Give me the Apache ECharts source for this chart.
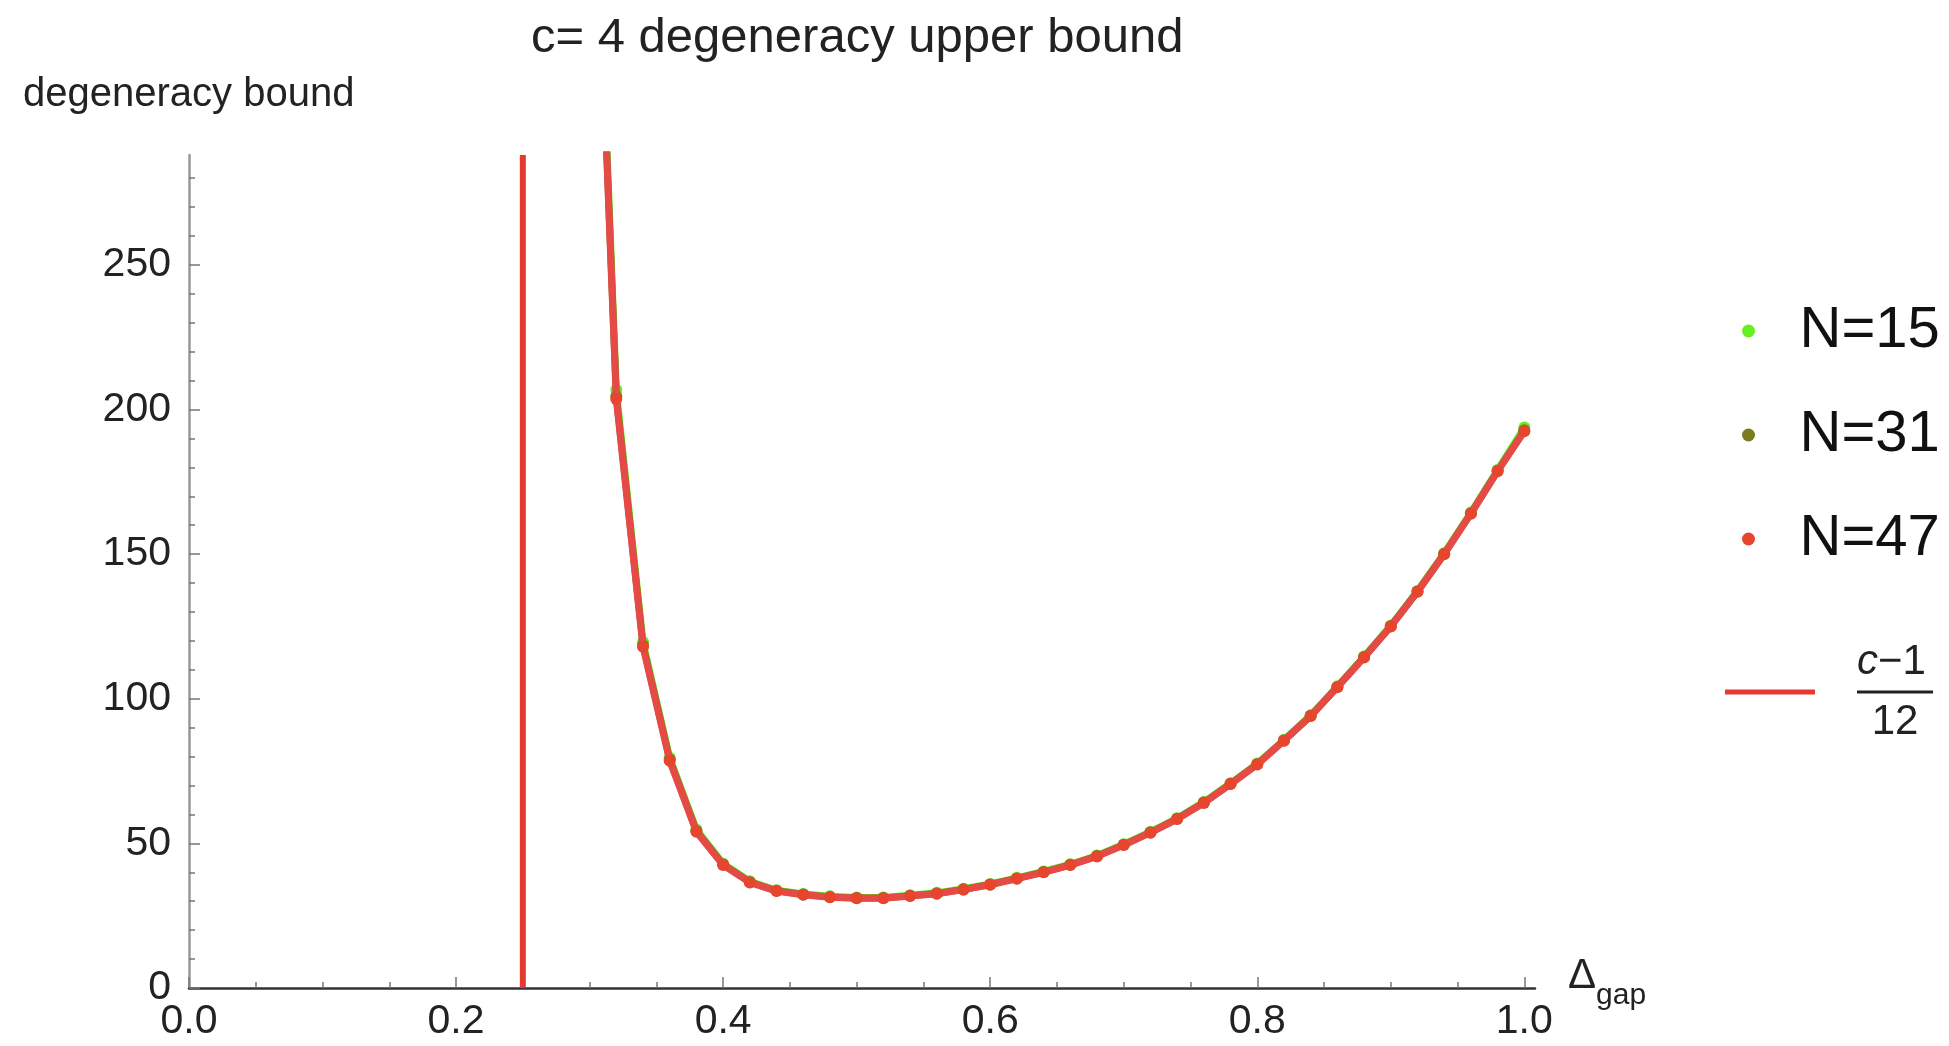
<!DOCTYPE html>
<html>
<head>
<meta charset="utf-8">
<script src="https://cdn.jsdelivr.net/npm/echarts@6/dist/echarts.min.js"></script>
<style>
html,body{margin:0;padding:0;background:#fff;}
#c{width:1949px;height:1046px;}
</style>
</head>
<body>
<div id="c"></div>
<script>
// ---- data ----
const xs = [0.30,0.32,0.34,0.36,0.38,0.40,0.42,0.44,0.46,0.48,0.50,0.52,0.54,0.56,0.58,0.60,0.62,0.64,0.66,0.68,0.70,0.72,0.74,0.76,0.78,0.80,0.82,0.84,0.86,0.88,0.90,0.92,0.94,0.96,0.98,1.00];
const n15 = [446,206.8,119.6,79.6,54.8,43.0,36.9,33.8,32.5,31.7,31.3,31.3,32.1,32.9,34.3,36.0,38.1,40.3,42.8,45.8,49.7,54.0,58.7,64.3,70.8,77.6,85.8,94.3,104.3,114.6,125.3,137.3,150.3,164.4,179.1,193.8];
const n31 = [441,204.6,118.5,79.0,54.3,42.7,36.6,33.6,32.3,31.5,31.1,31.1,31.9,32.7,34.1,35.8,37.9,40.1,42.6,45.6,49.5,53.8,58.5,64.1,70.6,77.4,85.6,94.1,104.1,114.4,125.1,137.1,150.1,164.1,178.8,192.8];
const n47 = [438,203.6,118.0,78.6,54.0,42.5,36.5,33.5,32.2,31.4,31.0,31.0,31.8,32.6,34.0,35.7,37.8,40.0,42.5,45.5,49.4,53.7,58.4,64.0,70.5,77.3,85.5,94.0,104.0,114.3,125.0,137.0,150.0,164.0,178.7,192.5];
const vlineX = 0.25;          // (c-1)/12 with c = 4
const xMajorTicks = [0,0.2,0.4,0.6,0.8,1.0];
const xMinorTicks = [0.05,0.1,0.15,0.25,0.3,0.35,0.45,0.5,0.55,0.65,0.7,0.75,0.85,0.9,0.95];
const yMajorTicks = [0,50,100,150,200,250];
const yMinorTicks = [10,20,30,40,60,70,80,90,110,120,130,140,160,170,180,190,210,220,230,240,260,270,280];
const X_MAX = 1.008;
const Y_MAX = 288;
const seriesNames = ['N=15','N=31','N=47'];
const lineName = 'c−1/12';

const pairs = arr => xs.map((x,i)=>[x,arr[i]]);

const chart = echarts.init(document.getElementById('c'), null, {renderer:'canvas'});
const FONT = 'Liberation Sans, Arial, sans-serif';

const option = {
  animation:false,
  backgroundColor:'#fff',
  textStyle:{fontFamily:FONT},
  title:[
    {text:'c= 4 degeneracy upper bound', left:526, top:9,
     textStyle:{fontSize:49, fontWeight:'normal', color:'#222', fontFamily:FONT}},
    {text:'degeneracy bound', left:18, top:70,
     textStyle:{fontSize:40, fontWeight:'normal', color:'#222', fontFamily:FONT}}
  ],
  grid:{left:189, right:414, top:155, bottom:58, containLabel:false},
  xAxis:[
    {type:'value', min:0, max:X_MAX, position:'bottom',
     axisLine:{show:true, onZero:false, lineStyle:{color:'#333', width:2.5}},
     axisTick:{show:true, inside:true, length:11, customValues:xMajorTicks, lineStyle:{color:'#777', width:1.5}},
     axisLabel:{show:true, customValues:xMajorTicks, formatter:v=>v.toFixed(1), fontSize:41, color:'#222', margin:13, fontFamily:FONT},
     splitLine:{show:false},
     name:'{a|Δ}{b|gap}', nameLocation:'end', nameGap:33,
     nameTextStyle:{padding:[0,0,10,0], rich:{
        a:{fontSize:42, lineHeight:42, verticalAlign:'top', color:'#222', fontFamily:FONT},
        b:{fontSize:30, lineHeight:56, verticalAlign:'bottom', color:'#222', fontFamily:FONT}}}
    },
    {type:'value', min:0, max:X_MAX, position:'bottom',
     axisLine:{show:false}, axisLabel:{show:false}, splitLine:{show:false},
     axisTick:{show:true, inside:true, length:6, customValues:xMinorTicks, lineStyle:{color:'#777', width:1.5}}
    }
  ],
  yAxis:[
    {type:'value', min:0, max:Y_MAX, position:'left',
     axisLine:{show:true, onZero:false, lineStyle:{color:'#999', width:2.5}},
     axisTick:{show:true, inside:true, length:11, customValues:yMajorTicks, lineStyle:{color:'#777', width:1.5}},
     axisLabel:{show:true, customValues:yMajorTicks, fontSize:41, color:'#222', margin:18, fontFamily:FONT},
     splitLine:{show:false}
    },
    {type:'value', min:0, max:Y_MAX, position:'left',
     axisLine:{show:false}, axisLabel:{show:false}, splitLine:{show:false},
     axisTick:{show:true, inside:true, length:6, customValues:yMinorTicks, lineStyle:{color:'#777', width:1.5}}
    }
  ],
  legend:[
    {data:seriesNames.map(n=>({name:n, icon:'circle'})),
     orient:'vertical', left:1737, top:296, itemWidth:92, itemHeight:13, itemGap:44,
     selectedMode:false,
     textStyle:{fontSize:58, lineHeight:60, color:'#111', fontFamily:FONT}},
    {data:[{name:lineName, icon:'rect'}],
     orient:'vertical', left:1720, top:636, itemWidth:90, itemHeight:5,
     selectedMode:false,
     formatter:()=>'{ni|c}{n|−1}\n{bar| }\n{d|12}',
     textStyle:{padding:[0,0,0,37], fontFamily:FONT, rich:{
        ni:{fontSize:42, fontStyle:'italic', color:'#222', lineHeight:52, fontFamily:FONT},
        n:{fontSize:42, color:'#222', lineHeight:52, fontFamily:FONT},
        bar:{width:76, height:3, lineHeight:8, backgroundColor:'#222', fontSize:2},
        d:{fontSize:42, color:'#222', lineHeight:52, width:66, align:'center', fontFamily:FONT}}}}
  ],
  series:[
    {name:lineName, type:'line', data:[[vlineX,0],[vlineX,Y_MAX]], showSymbol:false, symbol:'none',
     color:'#E63A30', lineStyle:{color:'#E63A30', width:6}, z:1, silent:true},
    {name:'N=15', type:'line', data:pairs(n15), symbol:'circle', symbolSize:12, showSymbol:true,
     color:'#66EE22', itemStyle:{color:'#66EE22'}, lineStyle:{color:'#66EE22', width:7}, z:2, clip:true},
    {name:'N=31', type:'line', data:pairs(n31), symbol:'circle', symbolSize:12, showSymbol:true,
     color:'#7B7B1F', itemStyle:{color:'#7B7B1F'}, lineStyle:{color:'#7B7B1F', width:7}, z:3, clip:true},
    {name:'N=47', type:'line', data:pairs(n47), symbol:'circle', symbolSize:12, showSymbol:true,
     color:'#EC4A30', itemStyle:{color:'#E8452E'}, lineStyle:{color:'#E54A47', width:7}, z:4, clip:true}
  ]
};
chart.setOption(option);
</script>
</body>
</html>
